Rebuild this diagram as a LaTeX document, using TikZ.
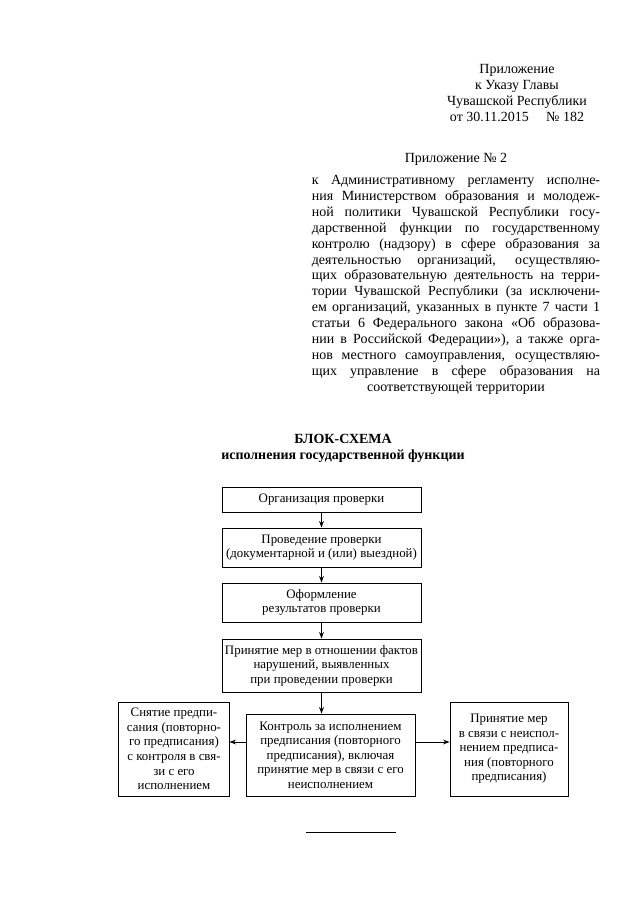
\documentclass[tikz,border=0pt]{standalone}
\usepackage{fontspec}
\setmainfont{Liberation Serif}
\usetikzlibrary{arrows.meta}
\newcommand{\stroka}[1]{\makebox[268pt][s]{#1}}
\tikzset{
  every picture/.style={>=Stealth},
  tekst/.style={font=\fontsize{13}{14.8}\selectfont, inner sep=0pt},
  blok/.style={draw, line width=0.9pt, align=center, inner sep=0pt,
               font=\fontsize{12}{13.5}\selectfont},
  strelka/.style={-{Stealth[length=6pt, width=4.5pt]}, line width=0.9pt},
}

\begin{document}
\begin{tikzpicture}[x=0.9297pt, y=-0.9297pt]
  \fill[white] (0,0) rectangle (640,905);
  \useasboundingbox (0,0) rectangle (640,905);

  % шапка
  \node[tekst, align=center] (ukaz) at (517,93) {Приложение\\к Указу Главы\\Чувашской Республики\\от 30.11.2015\quad\ № 182};
  \node[tekst] (pril2) at (456,159) {Приложение № 2};
  \node[tekst, align=left, anchor=north] (reglament) at (456,175) {%
    \stroka{к Административному регламенту исполне-}\\
    \stroka{ния Министерством образования и молодеж-}\\
    \stroka{ной политики Чувашской Республики госу-}\\
    \stroka{дарственной функции по государственному}\\
    \stroka{контролю (надзору) в сфере образования за}\\
    \stroka{деятельностью организаций, осуществляю-}\\
    \stroka{щих образовательную деятельность на терри-}\\
    \stroka{тории Чувашской Республики (за исключени-}\\
    \stroka{ем организаций, указанных в пункте 7 части 1}\\
    \stroka{статьи 6 Федерального закона «Об образова-}\\
    \stroka{нии в Российской Федерации»), а также орга-}\\
    \stroka{нов местного самоуправления, осуществляю-}\\
    \stroka{щих управление в сфере образования на}\\
    \makebox[268pt][c]{соответствующей территории}};

  % блок-схема
  \node[align=center, font=\bfseries\fontsize{13}{15}\selectfont] (zagolovok) at (343,448) {БЛОК-СХЕМА\\исполнения государственной функции};

  \node[blok, minimum width=185pt, minimum height=23.2pt] (org) at (321.5,499.5) {Организация проверки};
  \node[blok, minimum width=185pt, minimum height=36.3pt] (prov) at (321.5,547.5) {Проведение проверки\\(документарной и (или) выездной)};
  \node[blok, minimum width=185pt, minimum height=36.3pt] (oform) at (321.5,602.5) {Оформление\\результатов проверки};
  \node[blok, minimum width=185pt, minimum height=49.3pt] (mery) at (321.5,665.5) {Принятие мер в отношении фактов\\нарушений, выявленных\\при проведении проверки};
  \node[blok, minimum width=157.1pt, minimum height=76.2pt] (kontrol) at (330.5,755) {Контроль за исполнением\\предписания (повторного\\предписания), включая\\принятие мер в связи с его\\неисполнением};
  \node[blok, minimum width=102.3pt, minimum height=87.4pt] (snyatie) at (174,749) {Снятие предпи-\\сания (повторно-\\го предписания)\\с контроля в свя-\\зи с его\\исполнением};
  \node[blok, minimum width=109.7pt, minimum height=87.4pt] (prinyatie) at (509,749) {Принятие мер\\в связи с неиспол-\\нением предписа-\\ния (повторного\\предписания)};

  \draw[strelka] (org) -- (prov);
  \draw[strelka] (prov) -- (oform);
  \draw[strelka] (oform) -- (mery);
  \draw[strelka] (mery.south) -- (mery.south |- kontrol.north);
  \coordinate (uroven) at (0,742);
  \draw[strelka] (kontrol.west |- uroven) -- (snyatie.east |- uroven);
  \draw[strelka] (kontrol.east |- uroven) -- (prinyatie.west |- uroven);

  \draw[line width=0.5pt] (306,832) -- (396,832);
\end{tikzpicture}
\end{document}
